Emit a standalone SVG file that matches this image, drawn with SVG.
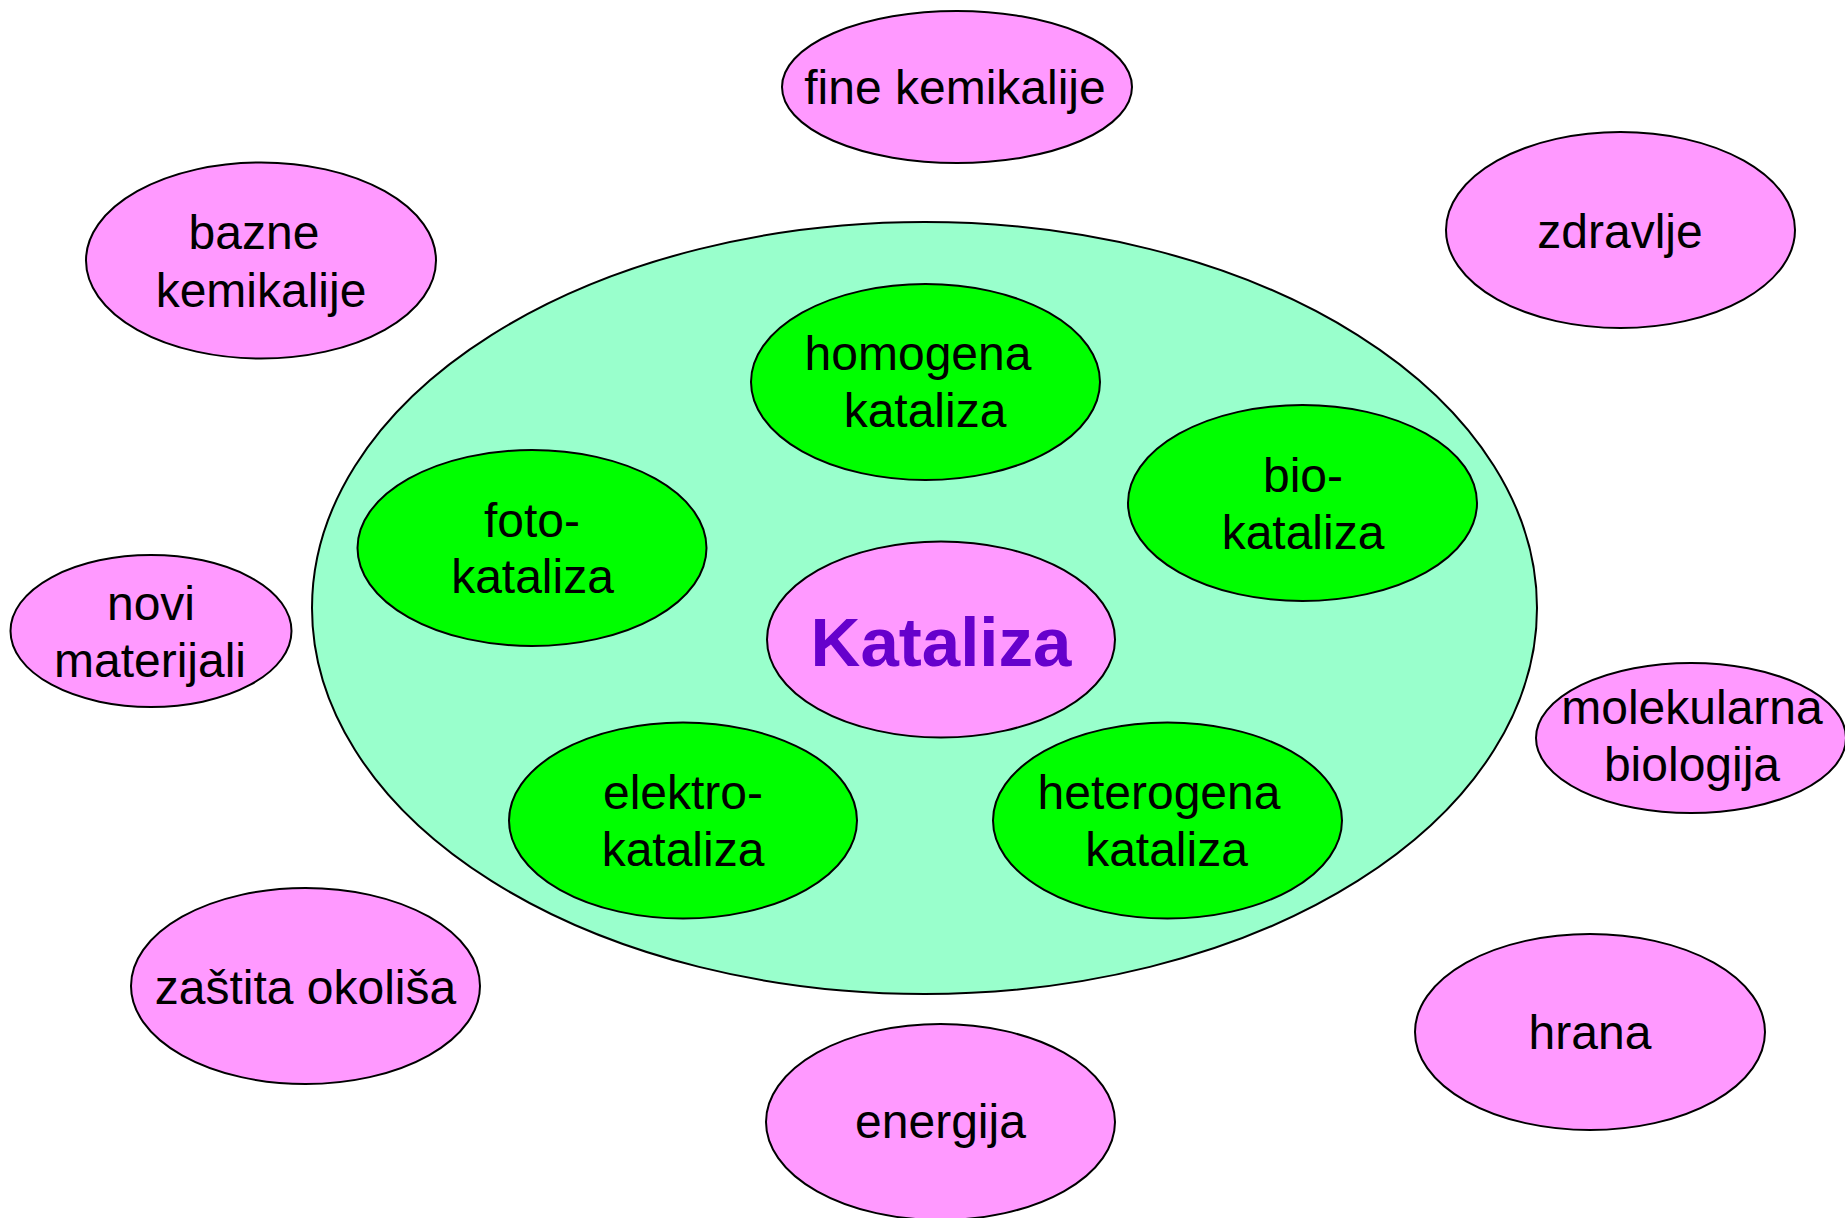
<svg xmlns="http://www.w3.org/2000/svg" width="1845" height="1218" viewBox="0 0 1845 1218">
<style>
.pink{fill:#FF99FF;stroke:#000;stroke-width:2}
.green{fill:#00FF00;stroke:#000;stroke-width:2}
.mint{fill:#99FFCC;stroke:#000;stroke-width:2}
text{font-family:"Liberation Sans",Arial,sans-serif;font-size:48px;fill:#000;text-anchor:middle}
.title{font-size:69px;font-weight:bold;fill:#6600CC}
</style>
<rect width="1845" height="1218" fill="#fff"/>
<g id="connectors"></g>
<g id="container"><ellipse class="mint" cx="924.5" cy="608" rx="612.5" ry="386"/></g>
<g id="fine-kemikalije"><ellipse class="pink" cx="957" cy="87" rx="175" ry="76"/><text x="955" y="104">fine kemikalije</text></g>
<g id="bazne-kemikalije"><ellipse class="pink" cx="261" cy="260.5" rx="175" ry="98"/><text x="254" y="249">bazne</text><text x="261" y="307">kemikalije</text></g>
<g id="zdravlje"><ellipse class="pink" cx="1620.5" cy="230" rx="174.5" ry="98"/><text x="1620" y="248">zdravlje</text></g>
<g id="homogena"><ellipse class="green" cx="925.5" cy="382" rx="174.5" ry="98"/><text x="918" y="370">homogena</text><text x="925" y="427">kataliza</text></g>
<g id="bio"><ellipse class="green" cx="1302.5" cy="503" rx="174.5" ry="98"/><text x="1303" y="492">bio-</text><text x="1303" y="549">kataliza</text></g>
<g id="foto"><ellipse class="green" cx="532" cy="548" rx="174.5" ry="98"/><text x="532" y="537">foto-</text><text x="532.5" y="593">kataliza</text></g>
<g id="novi-materijali"><ellipse class="pink" cx="151" cy="631" rx="140.5" ry="76"/><text x="151" y="620">novi</text><text x="150" y="677">materijali</text></g>
<g id="kataliza"><ellipse class="pink" cx="941" cy="639.5" rx="174" ry="98"/><text class="title" x="941" y="666">Kataliza</text></g>
<g id="molekularna-biologija"><ellipse class="pink" cx="1691" cy="738" rx="155" ry="75"/><text x="1692" y="724">molekularna</text><text x="1692" y="781">biologija</text></g>
<g id="elektro"><ellipse class="green" cx="683" cy="820.5" rx="174" ry="98"/><text x="683" y="809">elektro-</text><text x="683" y="866">kataliza</text></g>
<g id="heterogena"><ellipse class="green" cx="1167.5" cy="820.5" rx="174.5" ry="98"/><text x="1159" y="809">heterogena</text><text x="1166.5" y="866">kataliza</text></g>
<g id="zastita-okolisa"><ellipse class="pink" cx="305.5" cy="986" rx="174.5" ry="98"/><text x="305.5" y="1004">zaštita okoliša</text></g>
<g id="hrana"><ellipse class="pink" cx="1590" cy="1032" rx="175" ry="98"/><text x="1590" y="1049">hrana</text></g>
<g id="energija"><ellipse class="pink" cx="940.5" cy="1122" rx="174.5" ry="98"/><text x="940.5" y="1138">energija</text></g>
</svg>
